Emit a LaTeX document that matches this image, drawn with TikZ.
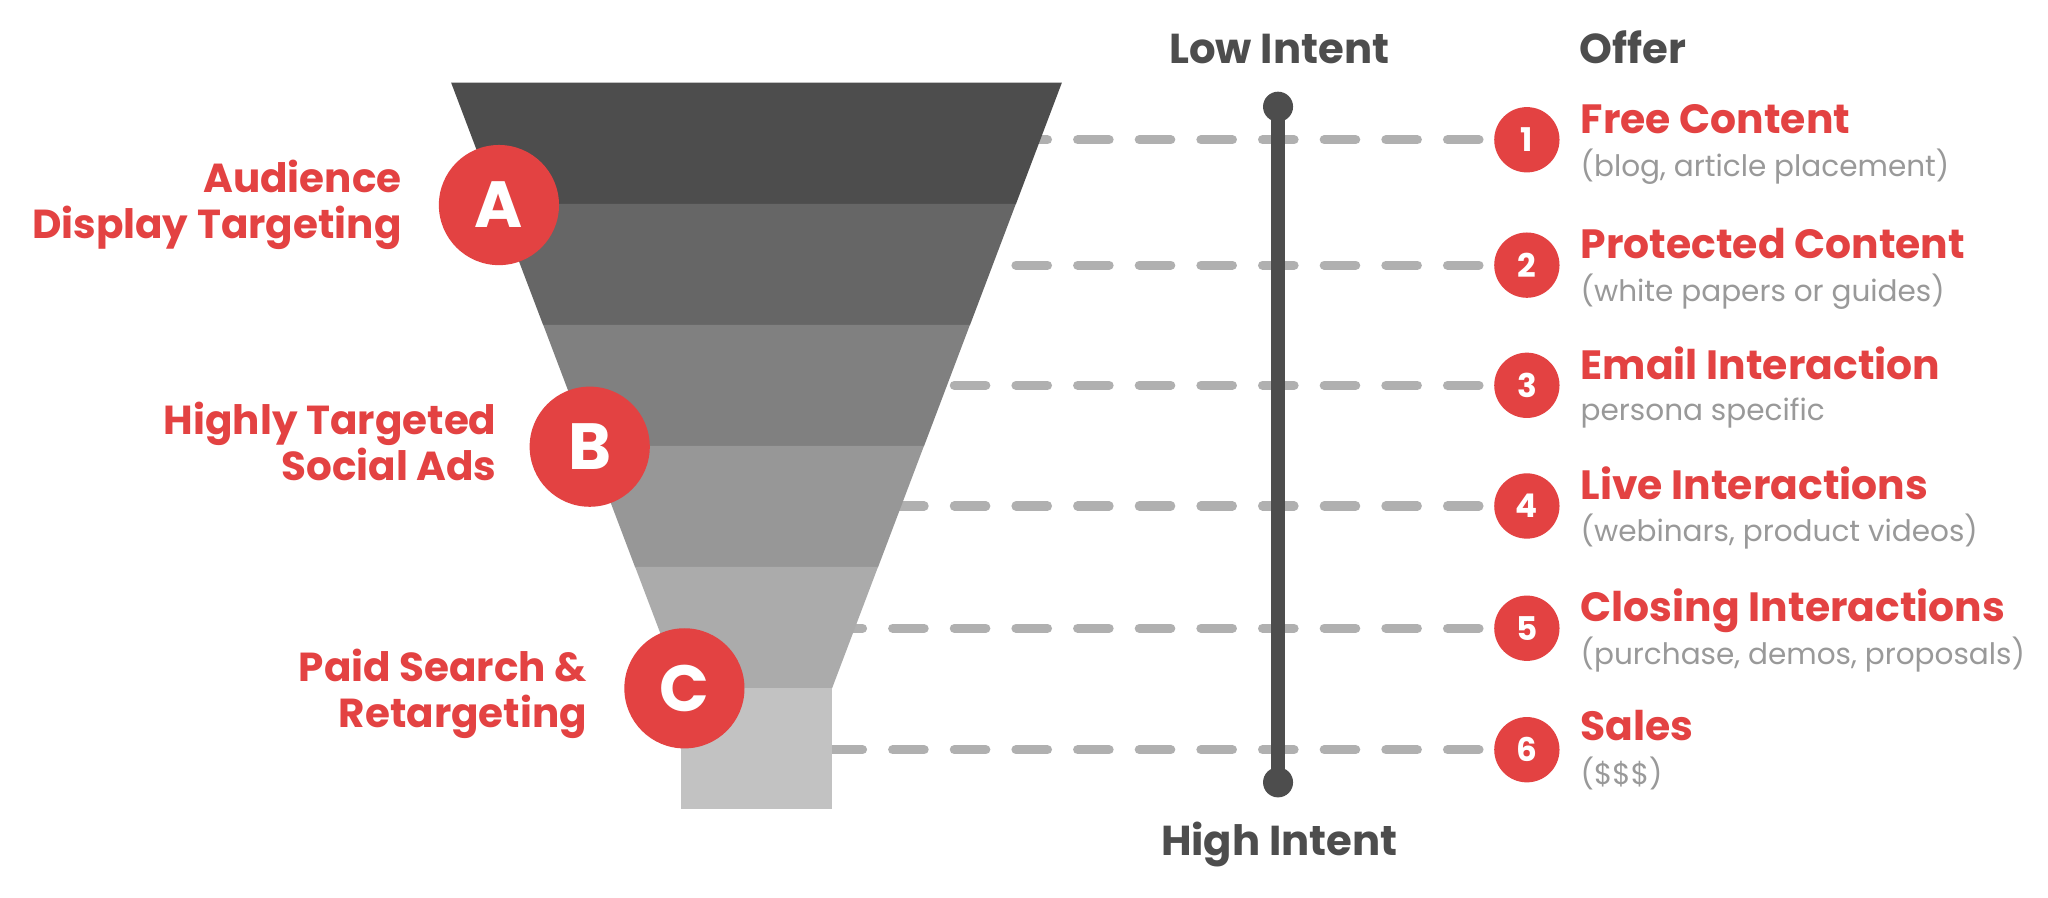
\documentclass[tikz,border=0pt]{standalone}
\usepackage{fontspec}
\setmainfont{Poppins}
\definecolor{fred}{HTML}{E34242}
\definecolor{dk}{HTML}{4D4D4D}
\definecolor{dashgray}{HTML}{B0B0B0}
\definecolor{subgray}{HTML}{999999}
\definecolor{bA}{HTML}{4D4D4D}
\definecolor{bB}{HTML}{666666}
\definecolor{bC}{HTML}{808080}
\definecolor{bD}{HTML}{979797}
\definecolor{bE}{HTML}{ABABAB}
\definecolor{bF}{HTML}{C2C2C2}
\tikzset{
  dashline/.style={draw=dashgray, line width=7.1pt, line cap=round, dash pattern=on 24pt off 23.2pt},
  lettc/.style={circle, fill=fred, minimum size=92pt, inner sep=0pt, text=white, font=\bfseries\fontsize{50}{50}\selectfont},
  numc/.style={circle, fill=fred, minimum size=50pt, inner sep=0pt, text=white, font=\bfseries\fontsize{25}{25}\selectfont},
  redlab/.style={anchor=base east, inner sep=0pt, text=fred, font=\bfseries\fontsize{31}{31}\selectfont},
  title/.style={anchor=base west, inner sep=0pt, text=fred, font=\bfseries\fontsize{31.3}{31.3}\selectfont},
  sub/.style={anchor=base west, inner sep=0pt, text=subgray, font=\fontsize{22.6}{22.6}\selectfont},
  head/.style={anchor=base, inner sep=0pt, text=dk, font=\bfseries\fontsize{32}{32}\selectfont},
  endc/.style={circle, fill=dk, minimum size=23pt, inner sep=0pt},
}
\begin{document}
\begin{tikzpicture}[x=1pt,y=-1pt]
\useasboundingbox[fill=white] (0,0) rectangle (1568,686.8);

% number circles
\node[numc] (n1) at (1169,107) {1};
\node[numc] (n2) at (1169,203) {2};
\node[numc] (n3) at (1169,295) {3};
\node[numc] (n4) at (1169,387.4) {4};
\node[numc] (n5) at (1169,481) {5};
\node[numc] (n6) at (1169,574) {6};

% hidden dash starts inside the funnel
\coordinate (d1) at (740,107);
\coordinate (d2) at (700,203);
\coordinate (d3) at (660,295);
\coordinate (d4) at (630,387.4);
\coordinate (d5) at (600,481);
\coordinate (d6) at (560,574);

\foreach \i in {1,...,6}{
  \draw[dashline] ([xshift=-11.5pt]n\i.west) -- (d\i);
}

% funnel
\fill[bA] (345.4,63.3) -- (813,63.3) -- (777.8,156.3) -- (380.6,156.3) -- cycle;
\fill[bB] (380.6,156) -- (777.8,156) -- (742.6,249) -- (415.9,249) -- cycle;
\fill[bC] (415.9,248.7) -- (742.6,248.7) -- (707.4,341.7) -- (451.1,341.7) -- cycle;
\fill[bD] (451.1,341.4) -- (707.4,341.4) -- (672.2,434.4) -- (486.3,434.4) -- cycle;
\fill[bE] (486.3,434.1) -- (672.2,434.1) -- (637,527.1) -- (521.6,527.1) -- cycle;
\fill[bF] (521.6,526.8) rectangle (637,619.7);

% intent bar
\node[endc] (btop) at (978.5,81.7) {};
\node[endc] (bbot) at (978.5,599) {};
\draw[dk, line width=10.2pt] (btop.center) -- (bbot.center);

\node[head] (low) at (979.5,48.5) {Low Intent};
\node[head] (high) at (979.5,654.8) {High Intent};
\node[anchor=base west, inner sep=0pt, text=dk, font=\bfseries\fontsize{32}{32}\selectfont] (offer) at (1209,48.5) {Offer};

% letter circles
\node[lettc] (A) at (382,157) {A};
\node[lettc] (B) at (451.5,342) {B};
\node[lettc] (C) at (524,527) {C};

\node[redlab] (a1) at (307.6,147.5) {Audience};
\node[redlab] (a2) at (307.6,182.5) {Display Targeting};
\node[redlab] (b1) at (380.3,333) {Highly Targeted};
\node[redlab] (b2) at (380.3,368) {Social Ads};
\node[redlab] (c1) at (449.6,522) {Paid Search \&};
\node[redlab] (c2) at (449.6,557.2) {Retargeting};

% offer texts
\node[title] (t1) at (1210,102) {Free Content};
\node[sub] (s1) at (1210,135) {(blog, article placement)};
\node[title] (t2) at (1210,198) {Protected Content};
\node[sub] (s2) at (1210,230.5) {(white papers or guides)};
\node[title] (t3) at (1210,290.5) {Email Interaction};
\node[sub] (s3) at (1210,322) {persona specific};
\node[title] (t4) at (1210,382.3) {Live Interactions};
\node[sub] (s4) at (1210,414.8) {(webinars, product videos)};
\node[title] (t5) at (1210,476) {Closing Interactions};
\node[sub] (s5) at (1210,508.7) {(purchase, demos, proposals)};
\node[title] (t6) at (1210,567) {Sales};
\node[sub] (s6) at (1210,601) {(\$\$\$)};
\end{tikzpicture}
\end{document}
